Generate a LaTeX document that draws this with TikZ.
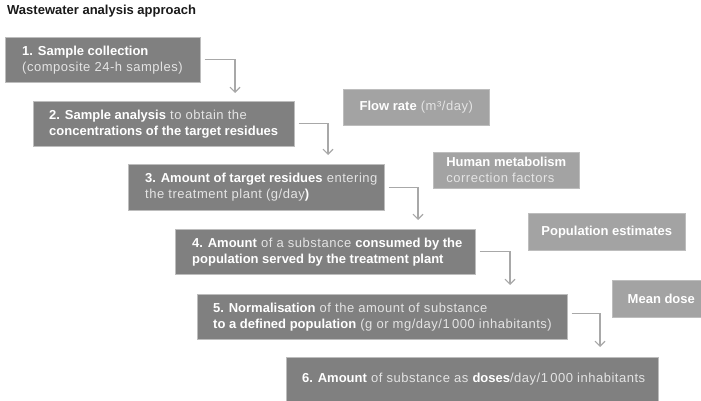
\documentclass[tikz,border=0pt]{standalone}
\usepackage{fontspec}
\setmainfont{Liberation Sans}[LetterSpace=4, BoldFeatures={LetterSpace=0}]
\usetikzlibrary{arrows.meta}
\definecolor{boxgray}{HTML}{808080}
\definecolor{sidegray}{HTML}{A3A3A3}
\definecolor{edgegray}{HTML}{BDBDBD}
\definecolor{arrgray}{HTML}{A8A8A8}
\definecolor{reggray}{HTML}{E4E4E4}
\definecolor{titlecol}{HTML}{1A1A1A}
\newcommand\bt[1]{{\bfseries\color{white}#1}}
\tikzset{
  mainbox/.style={fill=boxgray, draw=edgegray, line width=0.6pt, anchor=north west, inner sep=0pt},
  sidebox/.style={fill=sidegray, draw=edgegray, line width=0.6pt, anchor=north west, inner sep=0pt, align=left, text=reggray, font=\fontsize{13}{16}\selectfont},
  boxtext/.style={anchor=west, inner sep=0pt, align=left, text=reggray, font=\fontsize{13}{16}\selectfont},
  arr/.style={draw=arrgray, line width=1.3pt, -{Straight Barb[length=5pt,width=10pt,line width=1.1pt]}, shorten <=4pt},
}
\begin{document}
\begin{tikzpicture}[x=1pt,y=1pt]
\useasboundingbox (0,0) rectangle (701,-401);
\node[anchor=base west, inner sep=0pt, font=\bfseries\fontsize{13}{15}\selectfont, text=titlecol] (title) at (7,-15) {Wastewater analysis approach};

% main boxes
\node[mainbox, minimum width=195pt, minimum height=45pt] (b1) at (5,-37) {};
\node[mainbox, minimum width=261pt, minimum height=45pt] (b2) at (33,-101) {};
\node[mainbox, minimum width=256pt, minimum height=46pt] (b3) at (128,-164) {};
\node[mainbox, minimum width=300pt, minimum height=45pt] (b4) at (175,-229) {};
\node[mainbox, minimum width=370pt, minimum height=45pt] (b5) at (197,-294) {};
\node[mainbox, minimum width=372pt, minimum height=44pt] (b6) at (286,-357) {};

\node[boxtext] (b1t) at ([xshift=17pt]b1.west) {\bt{1. Sample collection}\\(composite 24-h samples)};
\node[boxtext] (b2t) at ([xshift=16pt]b2.west) {\bt{2. Sample analysis} to obtain the\\\bt{concentrations of the target residues}};
\node[boxtext] (b3t) at ([xshift=17pt]b3.west) {\bt{3. Amount of target residues} entering\\the treatment plant (g/day\bt{)}};
\node[boxtext] (b4t) at ([xshift=17pt]b4.west) {\bt{4. Amount} of a substance \bt{consumed by the}\\\bt{population served by the treatment plant}};
\node[boxtext] (b5t) at ([xshift=16pt]b5.west) {\bt{5. Normalisation} of the amount of substance\\\bt{to a defined population} (g or mg/day/1\,000 inhabitants)};
\node[boxtext] (b6t) at ([xshift=16pt]b6.west) {\bt{6. Amount} of substance as \bt{doses}/day/1\,000 inhabitants};

% side boxes
\node[sidebox, minimum width=146pt, minimum height=36pt] (flow) at (343,-89) {\bt{Flow rate} (m³/day)};
\node[sidebox, minimum width=146pt, minimum height=36pt] (meta) at (433,-152) {\bt{Human metabolism}\\correction factors};
\node[sidebox, minimum width=157pt, minimum height=37pt] (pop) at (528,-213) {\bt{Population estimates}};
\node[sidebox, minimum width=98pt, minimum height=37pt] (dose) at (612,-280) {\bt{Mean dose}};

% connectors
\coordinate (t1) at (235,-93);
\coordinate (t2) at (328,-155);
\coordinate (t3) at (418,-220);
\coordinate (t4) at (510,-285);
\coordinate (t5) at (600,-347);
\draw[arr] (b1.east) -| (t1);
\draw[arr] (b2.east) -| (t2);
\draw[arr] (b3.east) -| (t3);
\draw[arr] (b4.east) -| (t4);
\draw[arr] ([yshift=3pt]b5.east) -| (t5);
\end{tikzpicture}
\end{document}
